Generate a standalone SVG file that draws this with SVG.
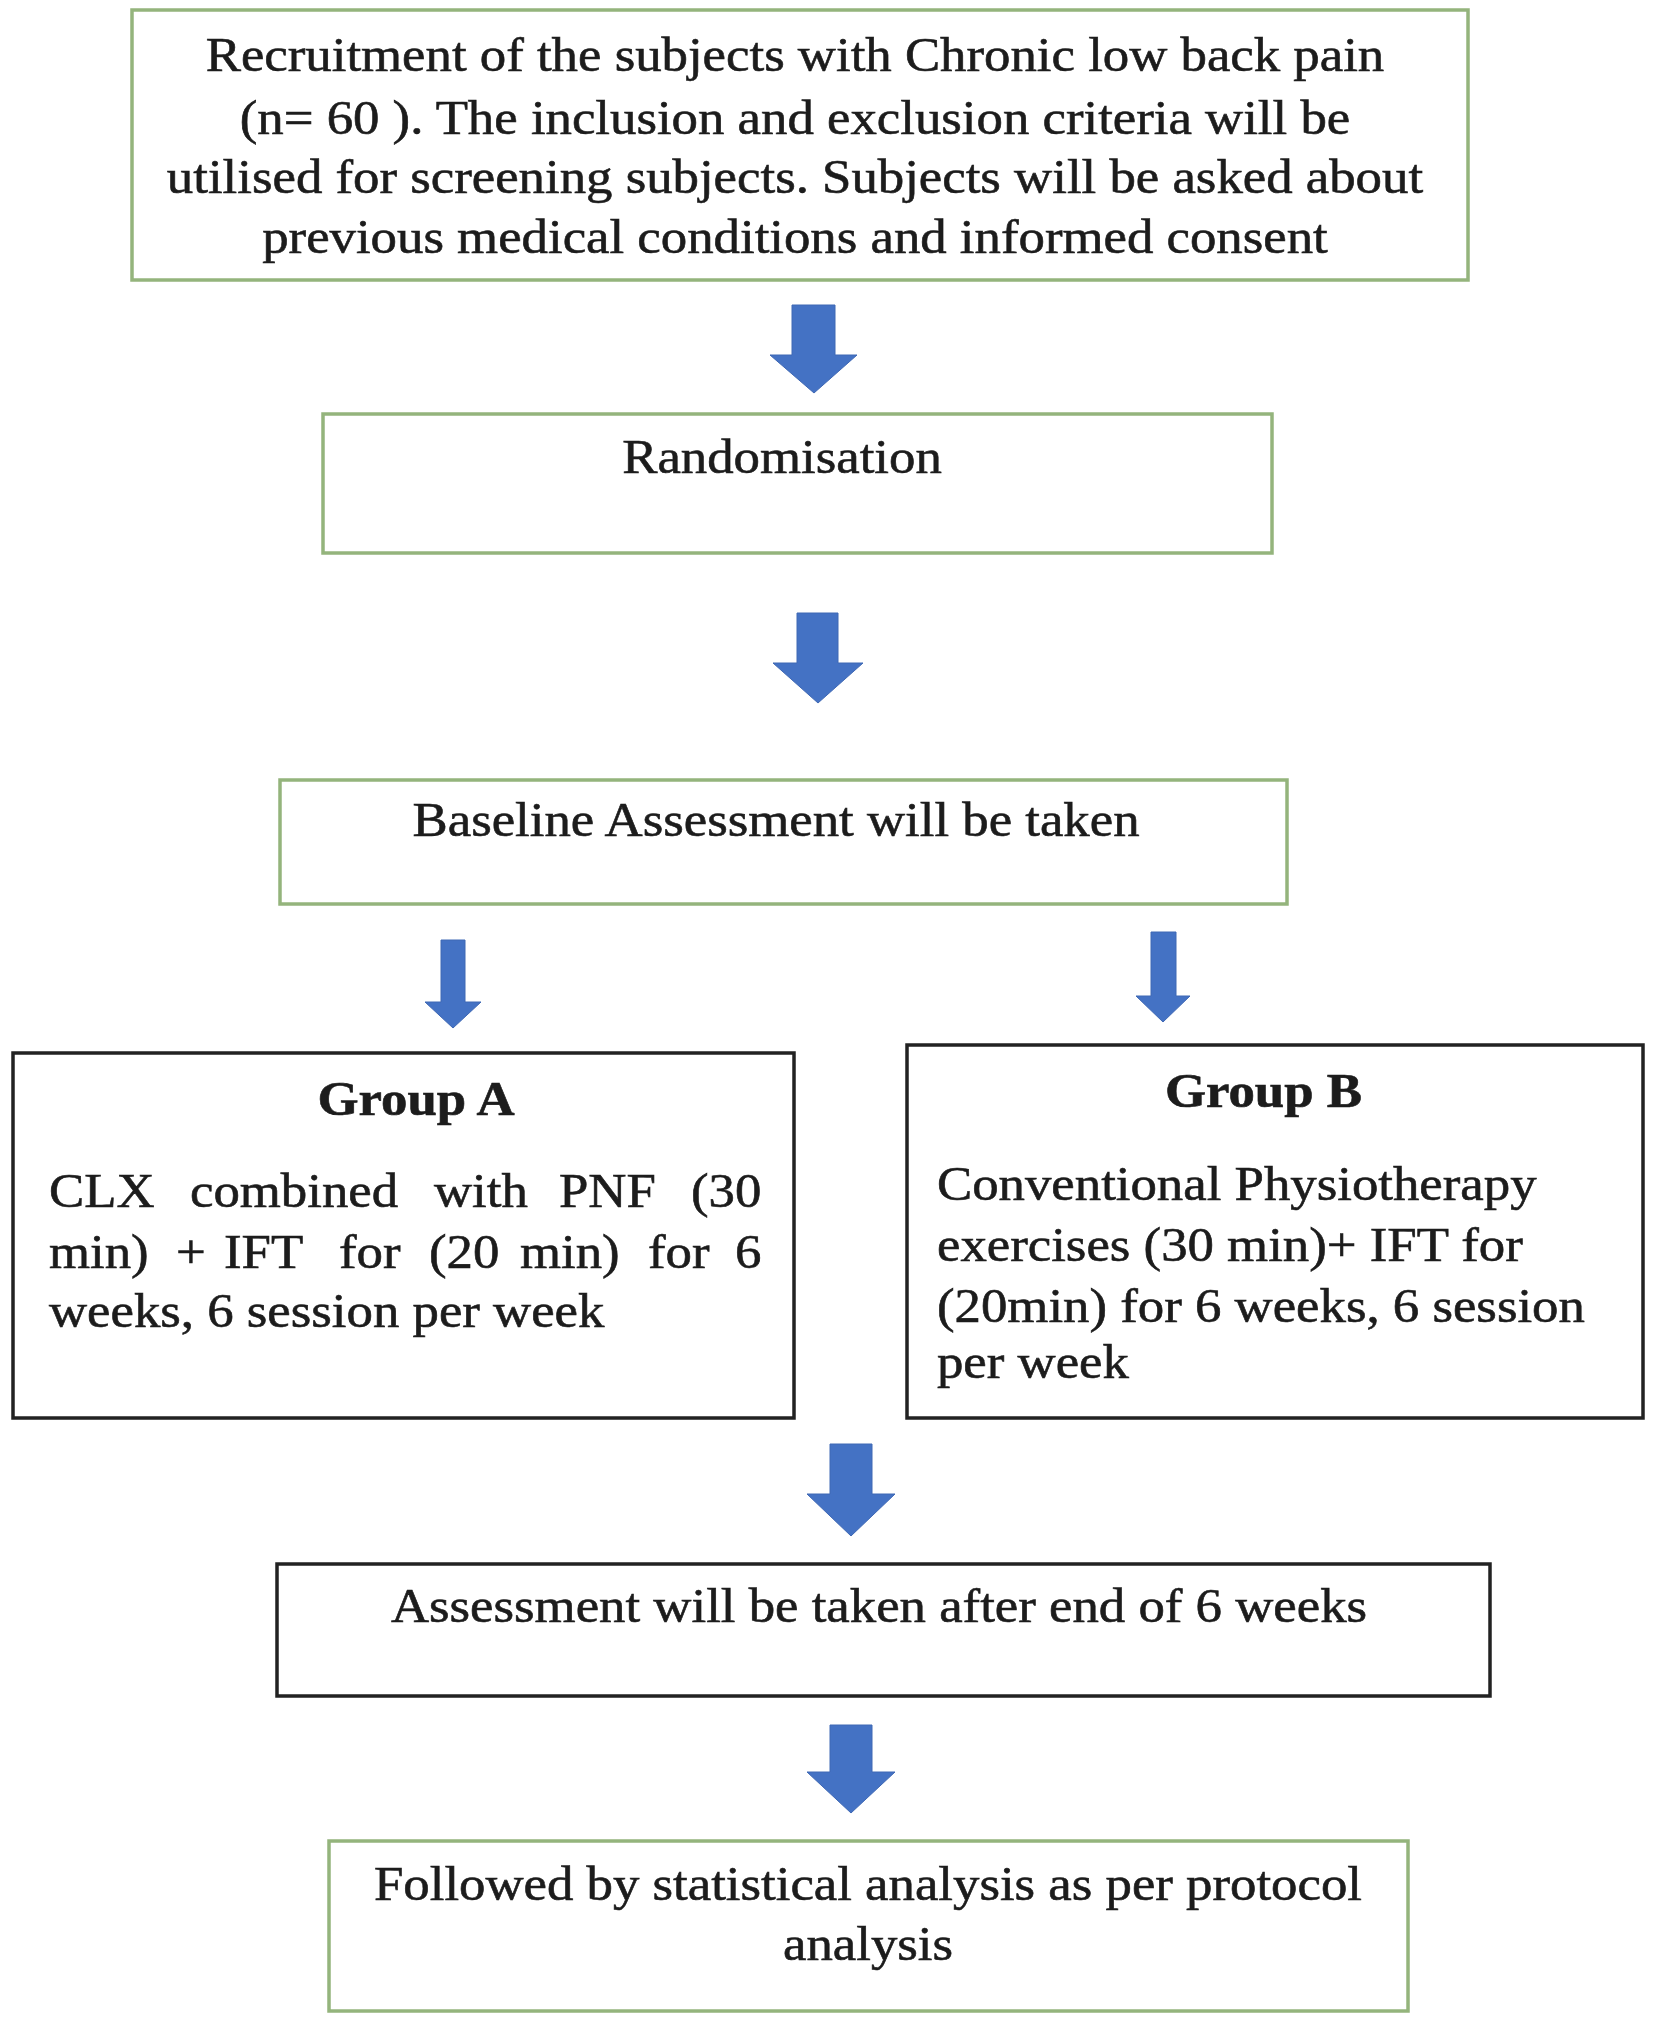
<svg xmlns="http://www.w3.org/2000/svg" width="1654" height="2017" viewBox="0 0 1654 2017">
<style>
.green{fill:#ffffff;stroke:#94b47c;stroke-width:3.5}
.black{fill:#ffffff;stroke:#222222;stroke-width:3.5}
.arrow{fill:#4472c4;stroke:#3f68b4;stroke-width:1}
text{font-family:"Liberation Serif","Times New Roman",serif;font-size:48px;fill:#1c1c1c;stroke:#1c1c1c;stroke-width:0.6}
.c{text-anchor:middle}
.b{font-weight:bold}
</style>
<rect width="1654" height="2017" fill="#ffffff"/>
<g id="connectors">
<polygon class="arrow" points="792,305 835,305 835,355 857,355 814,393 770,355 792,355"/>
<polygon class="arrow" points="797,613 838,613 838,663 863,663 818,703 773,663 797,663"/>
<polygon class="arrow" points="441,940 465,940 465,1002 481,1002 453,1028 425,1002 441,1002"/>
<polygon class="arrow" points="1151,932 1176,932 1176,996 1190,996 1163,1022 1136,996 1151,996"/>
<polygon class="arrow" points="830,1444 872,1444 872,1494 895,1494 851,1536 807,1494 830,1494"/>
<polygon class="arrow" points="830,1725 872,1725 872,1772 895,1772 851,1813 807,1772 830,1772"/>
</g>
<g id="recruitment">
<rect class="green" x="132" y="10" width="1336" height="270"/>
<g transform="scale(1.1,1)">
<text class="c" x="722.7" y="71">Recruitment of the subjects with Chronic low back pain</text>
<text class="c" x="722.7" y="134">(n= 60 ). The inclusion and exclusion criteria will be</text>
<text class="c" x="722.7" y="193">utilised for screening subjects. Subjects will be asked about</text>
<text class="c" x="722.7" y="253">previous medical conditions and informed consent</text>
</g>
</g>
<g id="randomisation">
<rect class="green" x="323" y="414" width="949" height="139"/>
<text class="c" transform="scale(1.1,1)" x="710.9" y="473">Randomisation</text>
</g>
<g id="baseline">
<rect class="green" x="280" y="780" width="1007" height="124"/>
<text class="c" transform="scale(1.1,1)" x="705.5" y="836">Baseline Assessment will be taken</text>
</g>
<g id="groupA">
<rect class="black" x="13" y="1053" width="781" height="365"/>
<g transform="scale(1.1,1)">
<text class="c b" x="378.2" y="1115">Group A</text>
<text y="1207"><tspan x="44.5">CLX</tspan><tspan x="172.7">combined</tspan><tspan x="394.5">with</tspan><tspan x="508.2">PNF</tspan><tspan x="628.2">(30</tspan></text>
<text y="1268"><tspan x="44.5">min)</tspan><tspan x="160">+</tspan><tspan x="203.6">IFT</tspan><tspan x="308.2">for</tspan><tspan x="390">(20</tspan><tspan x="472.7">min)</tspan><tspan x="589.1">for</tspan><tspan x="668.2">6</tspan></text>
<text x="44.5" y="1327">weeks, 6 session per week</text>
</g>
</g>
<g id="groupB">
<rect class="black" x="907" y="1045" width="736" height="373"/>
<g transform="scale(1.1,1)">
<text class="c b" x="1148.6" y="1107">Group B</text>
<text x="851.8" y="1200">Conventional Physiotherapy</text>
<text x="851.8" y="1261">exercises (30 min)+ IFT for</text>
<text x="851.8" y="1322">(20min) for 6 weeks, 6 session</text>
<text x="851.8" y="1378">per week</text>
</g>
</g>
<g id="assessment6">
<rect class="black" x="277" y="1564" width="1213" height="132"/>
<text class="c" transform="scale(1.1,1)" x="799.1" y="1622">Assessment will be taken after end of 6 weeks</text>
</g>
<g id="analysis">
<rect class="green" x="329" y="1841" width="1079" height="170"/>
<g transform="scale(1.1,1)">
<text class="c" x="789.1" y="1900">Followed by statistical analysis as per protocol</text>
<text class="c" x="789.1" y="1960">analysis</text>
</g>
</g>
</svg>
